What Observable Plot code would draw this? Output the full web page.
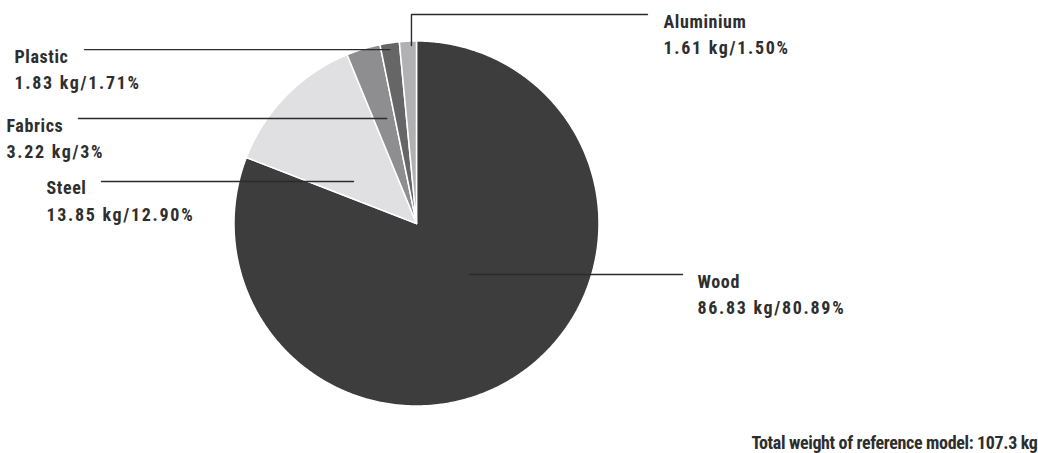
<!DOCTYPE html>
<html>
<head>
<meta charset="utf-8">
<script src="https://cdn.jsdelivr.net/npm/d3@7"></script>
<script src="https://cdn.jsdelivr.net/npm/@observablehq/plot@0.6"></script>
<style>
  html, body { margin: 0; padding: 0; background: #fff; }
  #chart svg { display: block; font-family: Roboto, "DejaVu Sans Condensed", sans-serif; font-stretch: condensed; }
</style>
</head>
<body>
<div id="chart"></div>
<script>
// ---- data ----
const categories = ["Wood", "Steel", "Fabrics", "Plastic", "Aluminium"];
const weightsKg = [86.83, 13.85, 3.22, 1.83, 1.61];
const percents = [80.89, 12.90, 3, 1.71, 1.50];
const percentLabels = ["80.89%", "12.90%", "3%", "1.71%", "1.50%"];
const totalWeightKg = 107.3;

// ---- styles / layout (kept apart from data) ----
const sliceColors = ["#3d3d3d", "#e0e0e2", "#8e8e90", "#666667", "#b1b1b3"];
const W = 1038, H = 453;
const cx = 416, cy = 223, R = 182.5;
// leader start: t = fraction across slice angle, r = fraction of radius
const layout = {
  Wood:      {t: 0.46, r: 0.403, lineTo: 682, textX: 697},
  Steel:     {t: 0.27, r: 0.415, lineTo: 101, textX: 46},
  Fabrics:   {t: 0.60, r: 0.598, lineTo: 78,  textX: 6},
  Plastic:   {t: 0.47, r: 0.964, lineTo: 84,  textX: 14},
  Aluminium: {t: 0.70, r: 0.976, lineTo: 647, textX: 663, elbowY: 14}
};

const rows = categories.map((name, i) => ({
  name, kg: weightsKg[i], pct: percents[i], pctLabel: percentLabels[i], color: sliceColors[i]
}));

const arcs = d3.pie().sort(null).value(d => d.pct).startAngle(0).endAngle(2 * Math.PI)(rows);
const pt = (a, r) => [cx + r * Math.sin(a), cy - r * Math.cos(a)];

// wedge polygons
const wedgePts = [];
arcs.forEach(a => {
  const d = a.data;
  wedgePts.push({name: d.name, color: d.color, x: cx, y: cy});
  const n = Math.max(4, Math.ceil((a.endAngle - a.startAngle) / (Math.PI / 360)));
  for (let k = 0; k <= n; k++) {
    const ang = a.startAngle + (a.endAngle - a.startAngle) * k / n;
    const [x, y] = pt(ang, R);
    wedgePts.push({name: d.name, color: d.color, x, y});
  }
});

// leaders and labels
const leaderPts = [];
const nameLabels = [];
const valueLabels = [];
arcs.forEach(a => {
  const d = a.data, L = layout[d.name];
  const ang = a.startAngle + (a.endAngle - a.startAngle) * L.t;
  const [x0, y0] = pt(ang, R * L.r);
  let lineY;
  if (L.elbowY !== undefined) {
    lineY = L.elbowY;
    leaderPts.push({name: d.name, x: x0, y: y0});
    leaderPts.push({name: d.name, x: x0, y: lineY});
    leaderPts.push({name: d.name, x: L.lineTo, y: lineY});
  } else {
    lineY = y0;
    leaderPts.push({name: d.name, x: x0, y: y0});
    leaderPts.push({name: d.name, x: L.lineTo, y: lineY});
  }
  nameLabels.push({x: L.textX, y: lineY + 13, text: d.name});
  valueLabels.push({x: L.textX, y: lineY + 39.5, text: `${d.kg} kg/${d.pctLabel}`});
});

const chart = Plot.plot({
  width: W,
  height: H,
  margin: 0,
  x: {type: "identity", axis: null},
  y: {type: "identity", axis: null},
  color: {type: "identity"},
  marks: [
    Plot.line(wedgePts, {x: "x", y: "y", z: "name", fill: "color", stroke: "#ffffff", strokeWidth: 1.5, strokeLinejoin: "round", curve: "linear-closed"}),
    Plot.line(leaderPts, {x: "x", y: "y", z: "name", stroke: "#2b2b2b", strokeWidth: 1.4}),
    Plot.text(nameLabels, {x: "x", y: "y", text: "text", textAnchor: "start", lineAnchor: "bottom", fontSize: 18, fontWeight: "bold", fill: "#2e2e2e"}),
    Plot.text(valueLabels, {x: "x", y: "y", text: "text", textAnchor: "start", lineAnchor: "bottom", fontSize: 18, fontWeight: "bold", fill: "#2e2e2e"}),
    Plot.text([{x: 1037, y: 448, text: `Total weight of reference model: ${totalWeightKg} kg`}], {x: "x", y: "y", text: "text", textAnchor: "end", lineAnchor: "bottom", fontSize: 18, fontWeight: "bold", fill: "#2e2e2e"})
  ]
});
document.getElementById("chart").appendChild(chart);

// letter spacing to match the reference's label type
const nameSet = new Set(nameLabels.map(d => d.text));
const valueSet = new Set(valueLabels.map(d => d.text));
d3.select(chart).selectAll("text").each(function() {
  const t = this.textContent;
  if (valueSet.has(t)) this.style.letterSpacing = "1.7px";
  else if (nameSet.has(t)) this.style.letterSpacing = "0.6px";
  else this.style.letterSpacing = "-0.35px";
});
</script>
</body>
</html>
